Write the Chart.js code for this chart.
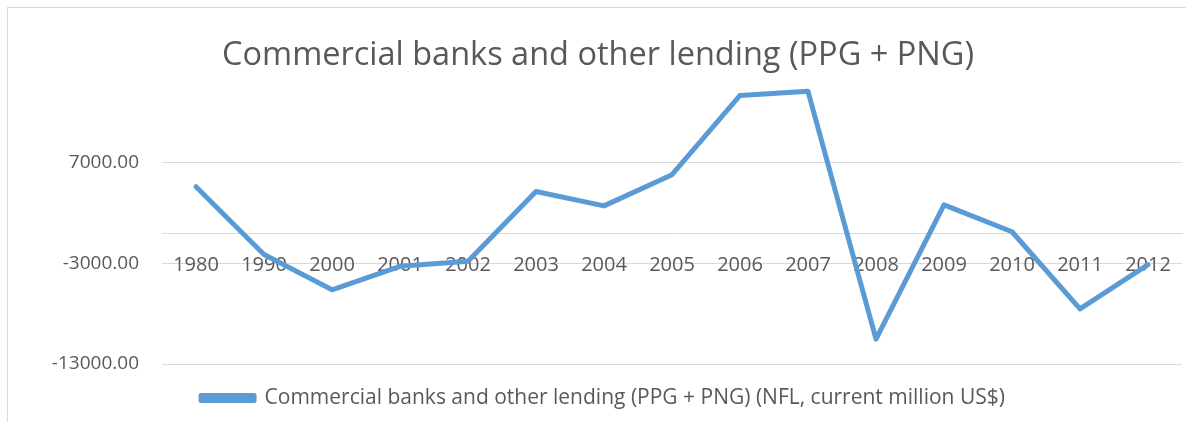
<!DOCTYPE html>
<html>
<head>
<meta charset="utf-8">
<script src="https://cdn.jsdelivr.net/npm/chart.js@4.4.1/dist/chart.umd.min.js"></script>
<style>
  html, body { margin: 0; padding: 0; background: #fff; }
  #wrap { position: relative; width: 1186px; height: 422px; }
</style>
</head>
<body>
<div id="wrap"><canvas id="lendingChart"></canvas></div>
<script>
const years = ['1980', '1990', '2000', '2001', '2002', '2003', '2004', '2005',
    '2006', '2007', '2008', '2009', '2010', '2011', '2012'];
const lending = [4600, -2130, -5630, -3300, -2800, 4130, 2700, 5800,
    13670, 14070, -10530, 2800, 130, -7530, -3130];
const yTicks = [-13000, -3000, 7000];
const seriesName = 'Commercial banks and other lending (PPG + PNG) (NFL, current million US$)';
const chartTitle = 'Commercial banks and other lending (PPG + PNG)';

const TEXT = '#595959';
const GRID = '#d9d9d9';
const LINE = '#5b9bd5';
const FONT = "'Open Sans', sans-serif";

// outer frame like the Excel chart border
const framePlugin = {
    id: 'frame',
    beforeDraw(chart) {
        const ctx = chart.ctx;
        ctx.save();
        ctx.strokeStyle = GRID;
        ctx.lineWidth = 1;
        ctx.strokeRect(7.5, 7.5, 1300, 600);
        ctx.restore();
    }
};

// nudge the legend and title to where Excel put them
const boxShift = {
    id: 'boxShift',
    afterLayout(chart) {
        const lg = chart.legend;
        if (lg) {
            const dy = 398 - (lg.top + lg.options.labels.padding + lg.options.labels.font.size / 2);
            lg.top += dy;
            lg.bottom += dy;
            lg.left += 12;
            lg.right += 12;
        }
        const tb = chart.titleBlock;
        if (tb) {
            tb.left += 7;
            tb.right += 7;
        }
    }
};

new Chart(document.getElementById('lendingChart'), {
    type: 'line',
    data: {
        labels: years,
        datasets: [{
            label: seriesName,
            data: lending,
            borderColor: LINE,
            backgroundColor: LINE,
            borderWidth: 5,
            pointRadius: 0,
            tension: 0,
            borderCapStyle: 'round',
            borderJoinStyle: 'round'
        }]
    },
    options: {
        responsive: true,
        maintainAspectRatio: false,
        animation: false,
        layout: { padding: { left: 0, right: 4, top: 0, bottom: 17 } },
        plugins: {
            title: {
                display: true,
                text: chartTitle,
                color: TEXT,
                font: { family: FONT, size: 32.5, weight: 'normal' },
                padding: { top: 36, bottom: 7 }
            },
            legend: {
                position: 'bottom',
                labels: {
                    color: TEXT,
                    font: { family: FONT, size: 21 },
                    boxWidth: 53,
                    boxHeight: 5,
                    padding: 10
                }
            },
            tooltip: { enabled: false }
        },
        scales: {
            x: {
                position: { y: 0 },
                offset: true,
                grid: { display: false },
                border: { display: true, color: GRID, width: 1 },
                ticks: {
                    color: TEXT,
                    font: { family: FONT, size: 20 },
                    padding: 12,
                    maxRotation: 0,
                    autoSkip: false
                }
            },
            y: {
                min: -13000,
                max: 15000,
                afterBuildTicks(scale) {
                    scale.ticks = yTicks.map((v) => ({ value: v }));
                },
                afterFit(scale) { scale.width = 162; },
                grid: { color: GRID, lineWidth: 1, drawTicks: false },
                border: { display: false },
                ticks: {
                    color: TEXT,
                    font: { family: FONT, size: 19 },
                    padding: 23,
                    callback: (v) => Number(v).toFixed(2)
                }
            }
        }
    },
    plugins: [framePlugin, boxShift]
});
</script>
</body>
</html>
